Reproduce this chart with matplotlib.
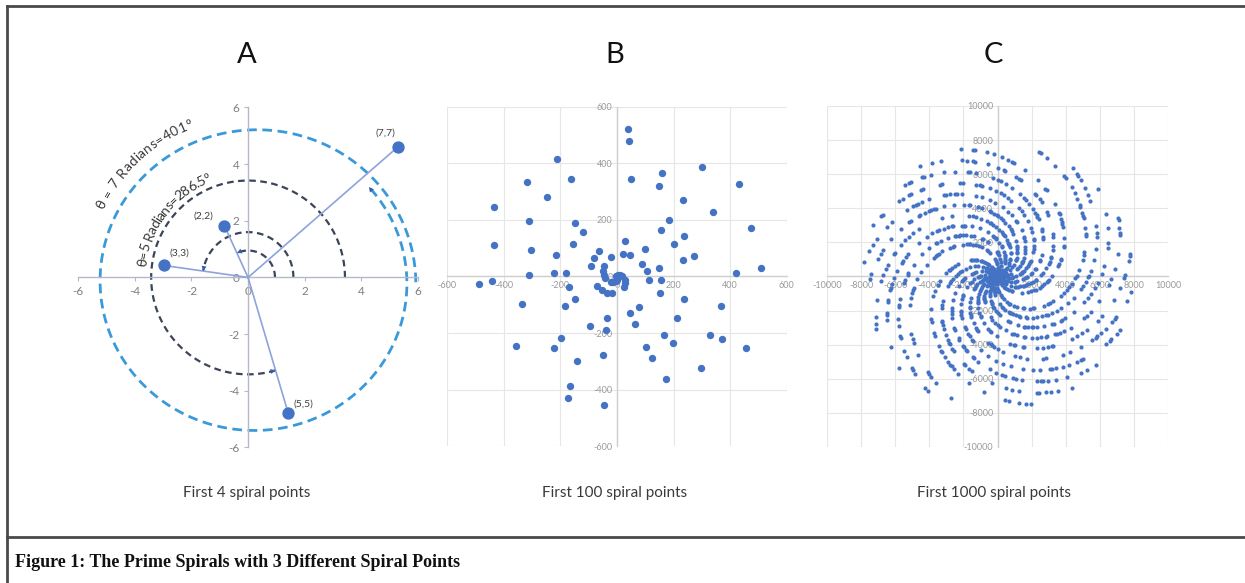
import numpy as np
import matplotlib.pyplot as plt
from matplotlib.lines import Line2D
from matplotlib.font_manager import FontProperties

plt.rcParams['font.family'] = ['Lato', 'DejaVu Sans']
plt.rcParams['axes.unicode_minus'] = False

# spiral points: prime p plotted at radius p, angle p (radians)
primes_a = [2, 3, 5, 7]
labels_a = ['(2,2)', '(3,3)', '(5,5)', '(7,7)']
label_offsets_a = [(-15, 7), (11, 9), (11, 7), (-9, 10)]

primes_b = [2, 3, 5, 7, 11, 13, 17, 19, 23, 29,
            31, 37, 41, 43, 47, 53, 59, 61, 67, 71,
            73, 79, 83, 89, 97, 101, 103, 107, 109, 113,
            127, 131, 137, 139, 149, 151, 157, 163, 167, 173,
            179, 181, 191, 193, 197, 199, 211, 223, 227, 229,
            233, 239, 241, 251, 257, 263, 269, 271, 277, 281,
            283, 293, 307, 311, 313, 317, 331, 337, 347, 349,
            353, 359, 367, 373, 379, 383, 389, 397, 401, 409,
            419, 421, 431, 433, 439, 443, 449, 457, 461, 463,
            467, 479, 487, 491, 499, 503, 509, 521, 523, 541]


def first_primes(n):
    # sieve up to 7919 (the 1000th prime)
    limit = 7920
    is_p = np.ones(limit, dtype=bool)
    is_p[:2] = False
    for i in range(2, int(limit ** 0.5) + 1):
        if is_p[i]:
            is_p[i * i::i] = False
    return list(np.nonzero(is_p)[0][:n])


primes_c = first_primes(1000)

titles = ['A', 'B', 'C']
subtitles = ['First 4 spiral points', 'First 100 spiral points', 'First 1000 spiral points']
caption = 'Figure 1: The Prime Spirals with 3 Different Spiral Points'
angle_notes = ['θ = 7 Radians=401°', 'θ=5 Radians=286.5°']

blue = '#4472c4'
dark_dash = '#3b4558'
light_dash = '#3a9ad9'


def spiral_xy(primes):
    p = np.asarray(primes, dtype=float)
    return p * np.cos(p), p * np.sin(p)


def excel_axes(ax, lim, step, spine_col, lab_col, lab_size, grid):
    ax.set_xlim(-lim, lim)
    ax.set_ylim(-lim, lim)
    ax.set_aspect('equal', adjustable='box')
    for s in ['top', 'right']:
        ax.spines[s].set_visible(False)
    for s in ['left', 'bottom']:
        ax.spines[s].set_position('zero')
        ax.spines[s].set_color(spine_col)
        ax.spines[s].set_linewidth(1.0)
    ticks = np.arange(-lim, lim + step, step)
    ax.set_xticks(ticks)
    ax.set_yticks(ticks)
    ax.tick_params(colors=spine_col, labelcolor=lab_col, labelsize=lab_size)
    if grid:
        ax.grid(True, color='#e6e6e6', lw=0.8)
        ax.tick_params(length=0, pad=3)
    else:
        ax.tick_params(length=3, direction='out', pad=3)
    ax.set_axisbelow(True)
    ax.patch.set_alpha(0)


def arc(ax, r, t_end, color, lw, center=(0.0, 0.0), dr=0.0, squash=1.0, dashes=(3, 2)):
    t = np.linspace(0, t_end, 400)
    rr = r + dr * t / t_end
    x = center[0] + rr * np.cos(t)
    y = center[1] + rr * squash * np.sin(t)
    ax.plot(x, y, color=color, lw=lw, dashes=dashes, clip_on=False, zorder=2)
    ax.annotate('', xy=(x[-1], y[-1]), xytext=(x[-12], y[-12]),
                arrowprops=dict(arrowstyle='-|>', color='#3b5cae', lw=0,
                                mutation_scale=9, shrinkA=0, shrinkB=0),
                zorder=4)


def curved_text(ax, s, r, a_from, a_to, size, color):
    # lay the characters along a circle of radius r, from angle a_from to a_to (deg, clockwise)
    renderer = ax.figure.canvas.get_renderer()
    prop = FontProperties(family=['Lato', 'DejaVu Sans'], size=size)
    widths = [renderer.get_text_width_height_descent(ch, prop, ismath=False)[0] for ch in s]
    p0, p1 = ax.transData.transform([(0, 0), (1, 0)])
    r_px = r * (p1[0] - p0[0])
    span = np.radians(a_from - a_to) * r_px
    gap = (span - sum(widths)) / max(len(s) - 1, 1)
    pos = 0.0
    for ch, w in zip(s, widths):
        ang = np.radians(a_from) - (pos + w / 2) / r_px
        ax.text(r * np.cos(ang), r * np.sin(ang), ch, rotation=np.degrees(ang) - 90,
                rotation_mode='anchor', ha='center', va='baseline',
                fontsize=size, color=color, zorder=4)
        pos += w + gap


fig = plt.figure(figsize=(12.45, 5.83), dpi=100)

# --- A: first 4 points with the angle arcs
ax_a = fig.add_axes([0.0627, 0.2316, 0.2731, 0.585])
excel_axes(ax_a, 6, 2, '#b4b8c8', '#7f7f7f', 8.5, grid=False)
xa, ya = spiral_xy(primes_a)
for x, y in zip(xa, ya):
    ax_a.plot([0, x], [0, y], color='#8ea3d9', lw=1.2, zorder=3)
arc(ax_a, 0.95, 2, dark_dash, 1.6)
arc(ax_a, 1.6, 3, dark_dash, 1.6)
arc(ax_a, 3.42, 5, dark_dash, 1.6)
arc(ax_a, 5.65, 7, light_dash, 2.0, center=(0.27, -0.17), dr=-0.35, squash=0.966,
    dashes=(3.5, 2))
ax_a.scatter(xa, ya, s=62, color=blue, zorder=5, clip_on=False)
for x, y, lab, off in zip(xa, ya, labels_a, label_offsets_a):
    ax_a.annotate(lab, (x, y), xytext=off, textcoords='offset points',
                  ha='center', va='center', fontsize=7.5, color='#404040')
curved_text(ax_a, angle_notes[0], 5.62, 155, 110, 10, '#383838')
curved_text(ax_a, angle_notes[1], 3.62, 174, 111, 10, '#383838')

# --- B: first 100 points
ax_b = fig.add_axes([0.359, 0.2333, 0.273, 0.585])
excel_axes(ax_b, 600, 200, '#cfcfcf', '#9a9a9a', 6.5, grid=True)
xb, yb = spiral_xy(primes_b)
ax_b.scatter(xb, yb, s=28, color=blue, zorder=3, linewidths=0)

# --- C: first 1000 points
ax_c = fig.add_axes([0.6635, 0.2333, 0.2755, 0.585])
excel_axes(ax_c, 10000, 2000, '#cfcfcf', '#9a9a9a', 6.5, grid=True)
xc, yc = spiral_xy(primes_c)
ax_c.scatter(xc, yc, s=9, color=blue, zorder=3, linewidths=0)

for cx, title, sub in zip([0.1985, 0.494, 0.798], titles, subtitles):
    fig.text(cx, 0.906, title, ha='center', va='center', fontsize=21, color='#111111')
    fig.text(cx, 0.154, sub, ha='center', va='center', fontsize=11, color='#3a3a3a')

# frame and caption row
frame = dict(color='#4a4a4a', lw=2.0, transform=fig.transFigure)
fig.add_artist(Line2D([0.0056, 1.0], [0.9897, 0.9897], **frame))
fig.add_artist(Line2D([0.0056, 0.0056], [0.0, 0.9897], **frame))
fig.add_artist(Line2D([0.0056, 1.0], [0.079, 0.079], **frame))
fig.text(0.012, 0.036, caption, ha='left', va='center', fontsize=13,
         fontweight='bold', family='Liberation Serif', color='#111111')

fig.savefig('out.png', dpi=100)
